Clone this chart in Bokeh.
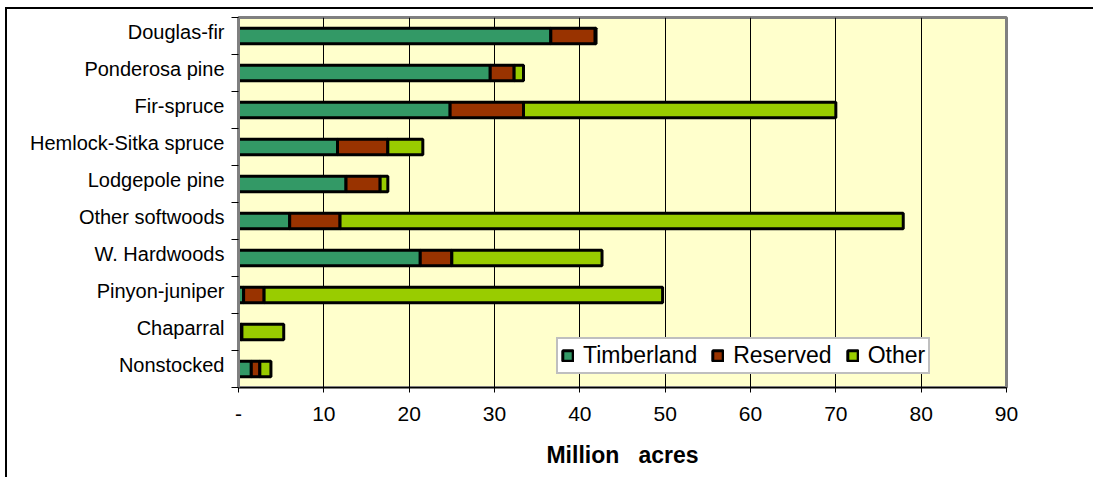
from bokeh.plotting import figure
from bokeh.models import (Range1d, FixedTicker, Legend, LegendItem, ColumnDataSource)
from bokeh.embed import file_html
from bokeh.resources import INLINE

categories = ["Douglas-fir", "Ponderosa pine", "Fir-spruce", "Hemlock-Sitka spruce",
              "Lodgepole pine", "Other softwoods", "W. Hardwoods", "Pinyon-juniper",
              "Chaparral", "Nonstocked"]
timberland = [36.6, 29.5, 24.8, 11.6, 12.6, 6.0, 21.3, 0.6, 0.3, 1.5]
reserved = [5.2, 2.8, 8.6, 5.9, 4.0, 5.9, 3.7, 2.4, 0.1, 1.0]
other = [0.1, 1.1, 36.6, 4.1, 0.9, 66.0, 17.6, 46.7, 4.9, 1.3]
series = ["Timberland", "Reserved", "Other"]
colors = ["#339966", "#993300", "#99CC00"]
x_ticks = [0, 10, 20, 30, 40, 50, 60, 70, 80, 90]
x_tick_labels = ["-", "10", "20", "30", "40", "50", "60", "70", "80", "90"]

n = len(categories)
ypos = [n - 0.5 - i for i in range(n)]
label_pos = [round(y + 0.1, 3) for y in ypos]
src = ColumnDataSource(dict(y=ypos, Timberland=timberland, Reserved=reserved, Other=other))

FONT = "Liberation Sans"

p = figure(width=1088, height=470, output_backend="svg", toolbar_location=None,
           x_range=Range1d(0, 90), y_range=Range1d(0, n),
           min_border_left=231, min_border_right=89, min_border_top=8, min_border_bottom=92)
p.styles = {"margin-left": "5px", "margin-top": "7px",
            "border-top": "2px solid black", "border-left": "2px solid black"}
p.background_fill_color = "#FFFFCC"
p.border_fill_color = "white"
p.outline_line_color = "#808080"
p.outline_line_width = 3

rs = p.hbar_stack(series, y="y", height=0.42, source=src, fill_color=colors,
                  line_color="black", line_width=3)

# x axis
p.xaxis.ticker = FixedTicker(ticks=x_ticks)
p.xaxis.major_label_overrides = {t: l for t, l in zip(x_ticks, x_tick_labels)}
p.xaxis.major_label_text_font = FONT
p.xaxis.major_label_text_font_size = "21px"
p.xaxis.major_label_text_color = "black"
p.xaxis.major_tick_out = 5
p.xaxis.major_tick_in = 0
p.xaxis.minor_tick_out = 0
p.xaxis.minor_tick_in = 0
p.xaxis.major_tick_line_color = "black"
p.xaxis.axis_line_color = "black"
p.xaxis.axis_line_width = 1
p.xaxis.major_label_standoff = 14
p.xaxis.axis_label = "Million\u00a0\u00a0\u00a0acres"
p.xaxis.axis_label_text_font = FONT
p.xaxis.axis_label_text_font_style = "bold"
p.xaxis.axis_label_text_font_size = "23px"
p.xaxis.axis_label_text_color = "black"
p.xaxis.axis_label_standoff = 18

# y axis
p.yaxis.ticker = FixedTicker(ticks=label_pos, minor_ticks=list(range(n + 1)))
p.yaxis.major_label_overrides = {y: c for y, c in zip(label_pos, categories)}
p.yaxis.major_label_text_font = FONT
p.yaxis.major_label_text_font_size = "20px"
p.yaxis.major_label_text_color = "black"
p.yaxis.major_tick_out = 0
p.yaxis.major_tick_in = 0
p.yaxis.minor_tick_out = 7
p.yaxis.minor_tick_in = 0
p.yaxis.minor_tick_line_color = "black"
p.yaxis.axis_line_color = "#808080"
p.yaxis.axis_line_width = 3
p.yaxis.major_label_standoff = 7

p.xgrid.ticker = FixedTicker(ticks=x_ticks)
p.xgrid.grid_line_color = "black"
p.xgrid.grid_line_width = 1
p.ygrid.grid_line_color = None

legend = Legend(items=[LegendItem(label=s, renderers=[r]) for s, r in zip(series, rs)],
                orientation="horizontal", location=(318, 13))
legend.label_text_font = FONT
legend.label_text_font_size = "23px"
legend.label_text_color = "black"
legend.glyph_width = 13
legend.glyph_height = 13
legend.label_standoff = 9
legend.spacing = 14
legend.padding = 3
legend.margin = 0
legend.border_line_color = "#808080"
legend.border_line_width = 2
legend.background_fill_color = "white"
legend.background_fill_alpha = 1
p.add_layout(legend)

open("out.html", "w").write(file_html(p, INLINE))
